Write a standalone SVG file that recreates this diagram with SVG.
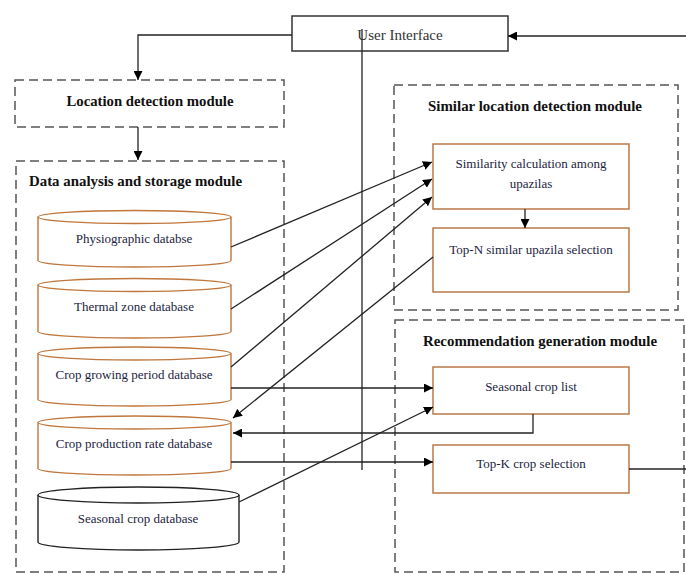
<svg xmlns="http://www.w3.org/2000/svg" width="686" height="574" viewBox="0 0 686 574">
<style>
  .dash{fill:none;stroke:#555;stroke-width:1.5;stroke-dasharray:9,5}
  .box{fill:#fff;stroke:#b9784a;stroke-width:1.5}
  .cyl{fill:#fff;stroke:#c0763c;stroke-width:1.4}
  .cylk{fill:#fff;stroke:#222;stroke-width:1.4}
  .ttl{font-family:"Liberation Serif",serif;font-weight:bold;font-size:14px;fill:#111;text-anchor:middle}
  .lbl{font-family:"Liberation Serif",serif;font-size:13px;fill:#1c2340;text-anchor:middle}
  .con{fill:none;stroke:#222;stroke-width:1.3}
</style>
<defs>
  <marker id="arr" viewBox="0 0 10 10" refX="10" refY="5" markerWidth="9" markerHeight="9" markerUnits="userSpaceOnUse" orient="auto">
    <path d="M0,0 L10,5 L0,10 z" fill="#000"/>
  </marker>
</defs>
<rect width="686" height="574" fill="#fff"/>

<g id="ui">
  <rect x="292" y="16" width="216" height="35" fill="#fff" stroke="#333" stroke-width="1.5"/>
  <text class="lbl" x="400" y="40" style="font-size:15px;fill:#333">User Interface</text>
</g>

<g id="location">
  <rect class="dash" x="15" y="80" width="269" height="47"/>
  <text class="ttl" x="150" y="106" textLength="167" lengthAdjust="spacingAndGlyphs">Location detection module</text>
</g>

<g id="data-module">
  <rect class="dash" x="16" y="161" width="268" height="411"/>
  <text class="ttl" x="29" y="186" style="text-anchor:start" textLength="213" lengthAdjust="spacingAndGlyphs">Data analysis and storage module</text>
</g>

<g id="db-physio">
  <path class="cyl" d="M38,217 V260.5 A96.5,6.5 0 0 0 231,260.5 V217"/>
  <ellipse class="cyl" cx="134.5" cy="217" rx="96.5" ry="6.5"/>
  <text class="lbl" x="134" y="243">Physiographic databse</text>
</g>
<g id="db-thermal">
  <path class="cyl" d="M38,285 V331.5 A96.5,6.5 0 0 0 231,331.5 V285"/>
  <ellipse class="cyl" cx="134.5" cy="285" rx="96.5" ry="6.5"/>
  <text class="lbl" x="134" y="311">Thermal zone database</text>
</g>
<g id="db-growing">
  <path class="cyl" d="M38,353.5 V399.5 A96.5,6.5 0 0 0 231,399.5 V353.5"/>
  <ellipse class="cyl" cx="134.5" cy="353.5" rx="96.5" ry="6.5"/>
  <text class="lbl" x="134" y="379">Crop growing period database</text>
</g>
<g id="db-production">
  <path class="cyl" d="M38,422.5 V468.5 A96.5,6.5 0 0 0 231,468.5 V422.5"/>
  <ellipse class="cyl" cx="134.5" cy="422.5" rx="96.5" ry="6.5"/>
  <text class="lbl" x="134" y="448">Crop production rate database</text>
</g>
<g id="db-seasonal">
  <path class="cylk" d="M38,495 V542 A100.5,8 0 0 0 239,542 V495"/>
  <ellipse class="cylk" cx="138.5" cy="495" rx="100.5" ry="8"/>
  <text class="lbl" x="138" y="523">Seasonal crop database</text>
</g>

<g id="similar-module">
  <rect class="dash" x="394" y="85" width="284" height="225"/>
  <text class="ttl" x="535" y="111" textLength="214" lengthAdjust="spacingAndGlyphs">Similar location detection module</text>
</g>
<g id="similarity">
  <rect class="box" x="433" y="144" width="196" height="65"/>
  <text class="lbl" x="531" y="168">Similarity calculation among</text>
  <text class="lbl" x="531" y="188">upazilas</text>
</g>
<g id="topn">
  <rect class="box" x="433" y="228" width="196" height="64"/>
  <text class="lbl" x="531" y="254">Top-N similar upazila selection</text>
</g>

<g id="recommendation-module">
  <rect class="dash" x="395" y="320" width="289" height="252"/>
  <text class="ttl" x="540" y="346" textLength="234" lengthAdjust="spacingAndGlyphs">Recommendation generation module</text>
</g>
<g id="seasonal-list">
  <rect class="box" x="433" y="367" width="196" height="47"/>
  <text class="lbl" x="531" y="391">Seasonal crop list</text>
</g>
<g id="topk">
  <rect class="box" x="433" y="445" width="196" height="48"/>
  <text class="lbl" x="531" y="468">Top-K crop selection</text>
</g>

<g id="connectors">
  <path class="con" d="M292,35 H138 V80" marker-end="url(#arr)"/>
  <path class="con" d="M686,36 H508" marker-end="url(#arr)"/>
  <path class="con" d="M138,127 V160" marker-end="url(#arr)"/>
  <path class="con" d="M362,29 V470" stroke-width="1.6"/>
  <path class="con" d="M231,247 L432,162" marker-end="url(#arr)"/>
  <path class="con" d="M231,309 L432,179" marker-end="url(#arr)"/>
  <path class="con" d="M231,367 L432,197" marker-end="url(#arr)"/>
  <path class="con" d="M433,257 L233,418" marker-end="url(#arr)"/>
  <path class="con" d="M231,388 H433" marker-end="url(#arr)"/>
  <path class="con" d="M533,414 V433 H233" marker-end="url(#arr)"/>
  <path class="con" d="M231,462 H433" marker-end="url(#arr)"/>
  <path class="con" d="M239,502 L433,407" marker-end="url(#arr)"/>
  <path class="con" d="M629,469 H686"/>
  <path class="con" d="M525,209 V228" marker-end="url(#arr)"/>
</g>
</svg>
